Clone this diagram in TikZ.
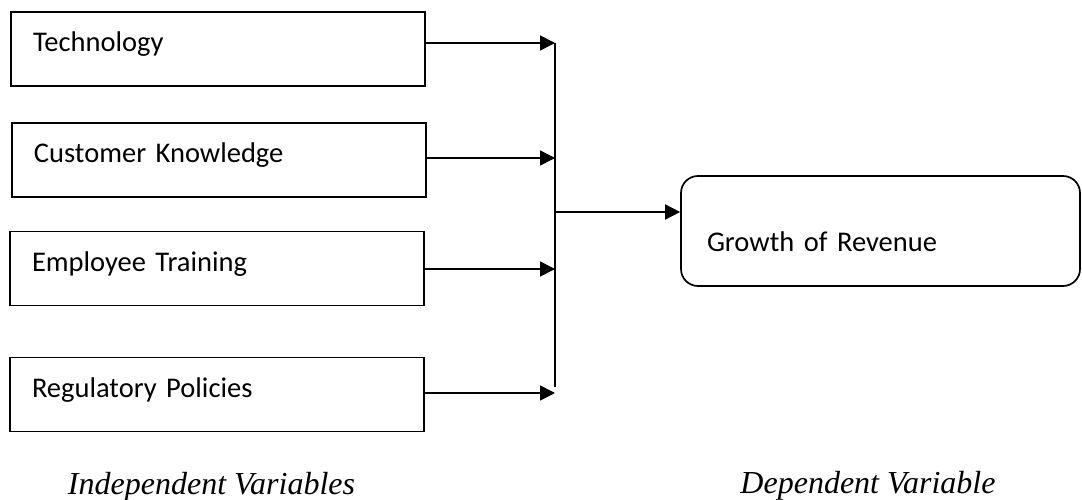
\documentclass[tikz,border=0pt]{standalone}
\usepackage{fontspec}
\setmainfont{Carlito}
\newfontfamily\timesfont{Liberation Serif}
\usetikzlibrary{arrows.meta}

\begin{document}
\begin{tikzpicture}[x=1pt, y=-1pt, line width=1.7pt,
        main/.style = {draw, inner sep=0pt, minimum width=414pt, minimum height=74pt, text width=370pt, align=left, font=\fontsize{28.5}{34}\selectfont, text height=20pt, text depth=14pt},
        goal/.style = {main, rounded corners=17pt, minimum width=399pt, minimum height=110pt, text width=347pt, text height=50pt, text depth=10pt},
        arr/.style = {-{Triangle[length=15pt,width=15pt]}},
        varlabel/.style = {anchor=base, font=\fontsize{32}{38}\timesfont\itshape}]
        \useasboundingbox (0,0) rectangle (1082,500);

        \node[main] (tech) at (218,49) {Technology};
        \node[main] (cust) at (219,160) {Customer Knowledge};
        \node[main] (emp) at (217,268.5) {Employee Training};
        \node[main] (reg) at (217,394.5) {Regulatory Policies};
        \node[goal] (rev) at (880.5,231) {Growth of Revenue};

        \coordinate (j1) at (555,43);
        \coordinate (j2) at (555,158);
        \coordinate (j3) at (555,269);
        \coordinate (j4) at (555,393);
        \coordinate (jm) at (555,212);
        \coordinate (jend) at (555,387);

        \draw (j1) -- (jend);
        \draw[arr] (tech.east |- j1) -- (j1);
        \draw[arr] (cust.east |- j2) -- (j2);
        \draw[arr] (emp.east |- j3) -- (j3);
        \draw[arr] (reg.east |- j4) -- (j4);
        \draw[arr] (jm) -- (rev.west |- jm);

        \node[varlabel] (ind) at (211.5,494) {Independent Variables};
        \node[varlabel] (dep) at (868,493) {Dependent Variable};

    \end{tikzpicture}
\end{document}
